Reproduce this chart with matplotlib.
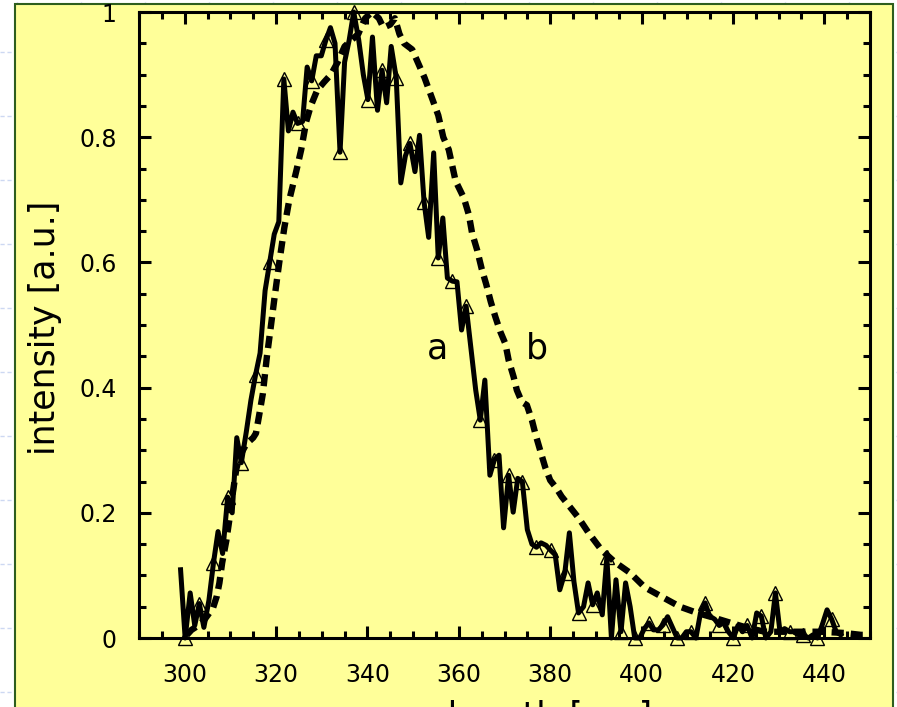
import matplotlib.pyplot as plt
from matplotlib.patches import Rectangle
from matplotlib.lines import Line2D
from matplotlib.ticker import MultipleLocator, FuncFormatter

# spectrum a (solid, triangles every 3rd point)
wl_a = [299.1, 300.1, 301.2, 302.2, 303.2, 304.2, 305.3, 306.3, 307.3, 308.3,
        309.4, 310.4, 311.4, 312.4, 313.5, 314.5, 315.5, 316.5, 317.6, 318.6,
        319.6, 320.6, 321.7, 322.7, 323.7, 324.7, 325.8, 326.8, 327.8, 328.8,
        329.9, 330.9, 331.9, 332.9, 334.0, 335.0, 336.0, 337.0, 338.1, 339.1,
        340.1, 341.1, 342.2, 343.2, 344.2, 345.2, 346.3, 347.3, 348.3, 349.3,
        350.4, 351.4, 352.4, 353.4, 354.5, 355.5, 356.5, 357.5, 358.6, 359.6,
        360.6, 361.6, 362.7, 363.7, 364.7, 365.7, 366.8, 367.8, 368.8, 369.8,
        370.9, 371.9, 372.9, 373.9, 375.0, 376.0, 377.0, 378.0, 379.1, 380.1,
        381.1, 382.1, 383.2, 384.2, 385.2, 386.2, 387.3, 388.3, 389.3, 390.3,
        391.4, 392.4, 393.4, 394.4, 395.5, 396.5, 397.5, 398.5, 399.6, 400.6,
        401.6, 402.6, 403.7, 404.7, 405.7, 406.7, 407.8, 408.8, 409.8, 410.8,
        411.9, 412.9, 413.9, 414.9, 416.0, 417.0, 418.0, 419.0, 420.1, 421.1,
        422.1, 423.1, 424.2, 425.2, 426.2, 427.2, 428.3, 429.3, 430.3, 431.3,
        432.4, 433.4, 434.4, 435.4, 436.5, 437.5, 438.5, 439.5, 440.6, 441.6,
        442.6, 443.6]
int_a = [0.109, 0.0, 0.072, 0.02, 0.055, 0.017, 0.06, 0.12, 0.17, 0.135,
         0.225, 0.20, 0.32, 0.28, 0.33, 0.38, 0.42, 0.455, 0.555, 0.60,
         0.645, 0.665, 0.893, 0.81, 0.84, 0.822, 0.825, 0.912, 0.89, 0.93,
         0.93, 0.955, 0.975, 0.95, 0.776, 0.92, 0.955, 1.0, 0.955, 0.90,
         0.86, 0.96, 0.843, 0.907, 0.855, 0.945, 0.895, 0.727, 0.77, 0.79,
         0.745, 0.803, 0.696, 0.64, 0.775, 0.607, 0.671, 0.575, 0.57, 0.569,
         0.492, 0.53, 0.46, 0.396, 0.348, 0.412, 0.26, 0.285, 0.292, 0.176,
         0.26, 0.201, 0.255, 0.25, 0.173, 0.15, 0.145, 0.152, 0.148, 0.14,
         0.133, 0.077, 0.104, 0.168, 0.09, 0.04, 0.05, 0.088, 0.053, 0.072,
         0.037, 0.129, 0.0, 0.093, 0.01, 0.088, 0.05, 0.0, 0.0, 0.015,
         0.024, 0.013, 0.013, 0.021, 0.034, 0.018, 0.0, 0.0, 0.01, 0.01,
         0.0, 0.04, 0.056, 0.035, 0.03, 0.02, 0.025, 0.01, 0.0, 0.02,
         0.01, 0.02, 0.0, 0.04, 0.035, 0.0, 0.01, 0.072, 0.01, 0.015,
         0.01, 0.01, 0.005, 0.005, 0.0, 0.005, 0.0, 0.02, 0.045, 0.03,
         0.01, 0.005]

# spectrum b (dashed)
wl_b = [300.5, 301.5, 303.0, 304.4, 306.2, 307.0, 307.6, 308.2, 309.1, 309.8,
        310.5, 311.3, 312.0, 313.5, 315.0, 315.6, 316.4, 317.1, 318.0, 318.9,
        319.6, 320.7, 321.8, 322.9, 324.4, 325.5, 326.6, 327.6, 329.0, 330.5,
        332.0, 333.5, 335.0, 336.5, 338.0, 339.5, 341.0, 342.5, 343.5, 345.0,
        346.0, 347.0, 348.0, 349.8, 351.0, 352.5, 354.0, 355.5, 356.6, 357.8,
        359.3, 361.1, 362.2, 362.9, 364.0, 365.0, 366.0, 367.0, 368.0, 369.1,
        370.2, 370.9, 372.0, 372.7, 373.8, 374.9, 376.0, 376.8, 377.8, 378.9,
        380.0, 381.3, 382.5, 383.6, 386.2, 388.4, 391.3, 394.2, 397.5, 400.7,
        404.4, 408.4, 412.2, 416.0, 419.6, 423.3, 427.0, 431.3, 435.4, 439.4,
        444.4, 448.0, 449.5]
int_b = [0.005, 0.013, 0.02, 0.03, 0.048, 0.066, 0.088, 0.12, 0.155, 0.19,
         0.23, 0.27, 0.29, 0.31, 0.32, 0.327, 0.36, 0.39, 0.45, 0.50,
         0.54, 0.60, 0.655, 0.70, 0.745, 0.78, 0.825, 0.85, 0.875, 0.888,
         0.90, 0.92, 0.945, 0.955, 0.965, 0.99, 1.0, 0.99, 0.975, 0.98,
         0.99, 0.965, 0.95, 0.94, 0.92, 0.895, 0.865, 0.835, 0.80, 0.78,
         0.73, 0.703, 0.676, 0.647, 0.62, 0.59, 0.565, 0.537, 0.513, 0.489,
         0.47, 0.444, 0.417, 0.396, 0.377, 0.372, 0.348, 0.325, 0.30, 0.273,
         0.252, 0.24, 0.226, 0.216, 0.192, 0.168, 0.14, 0.121, 0.104, 0.081,
         0.066, 0.05, 0.04, 0.032, 0.024, 0.016, 0.01, 0.01, 0.01, 0.01,
         0.008, 0.005, 0.005]

x_ticks = [300, 320, 340, 360, 380, 400, 420, 440]
y_ticks = [0, 0.2, 0.4, 0.6, 0.8, 1]

W, H = 897, 707
fig = plt.figure(figsize=(W / 100, H / 100), dpi=100)
fig.patch.set_facecolor('white')

# faint slide grid behind the yellow panel
for yp in range(52, H, 64):
    fig.add_artist(Line2D([0, 1], [1 - yp / H] * 2, color='#cdd8f2', lw=1,
                          ls=(0, (3, 2)), zorder=-3))
for xp in range(17, W, 64):
    fig.add_artist(Line2D([xp / W] * 2, [0, 1], color='#dde5f7', lw=1,
                          ls=(0, (3, 2)), zorder=-3))
fig.add_artist(Rectangle((15 / W, -0.01), (893 - 15) / W, 1.01 - 4 / H,
                         facecolor='#ffff99', edgecolor='#2e5e1e', lw=1.5,
                         zorder=-2))

ax = fig.add_axes([139 / W, 1 - 638 / H, (870 - 139) / W, (638 - 12) / H])
ax.set_facecolor('none')

ax.plot(wl_b, int_b, color='black', lw=4.6, ls=(0, (1.9, 1.1)),
        dash_capstyle='butt', clip_on=False)
ax.plot(wl_a, int_a, color='black', lw=3.6, marker='^', markersize=10,
        markerfacecolor='none', markeredgecolor='black', markeredgewidth=1,
        markevery=(1, 3), clip_on=False)

ax.text(355.3, 0.463, 'a', fontsize=25, ha='center', va='center')
ax.text(377.2, 0.463, 'b', fontsize=25, ha='center', va='center')

ax.set_xlim(290, 450)
ax.set_ylim(0, 1)
ax.set_xticks(x_ticks)
ax.set_yticks(y_ticks)
ax.xaxis.set_minor_locator(MultipleLocator(5))
ax.yaxis.set_minor_locator(MultipleLocator(0.05))
ax.yaxis.set_major_formatter(FuncFormatter(lambda v, p: f'{v:g}'))

for s in ax.spines.values():
    s.set_linewidth(2.2)
ax.tick_params(which='both', direction='in', top=True, right=True, width=2.2,
               labelsize=17)
ax.tick_params(which='major', length=8.6)
ax.tick_params(which='minor', length=5)
ax.tick_params(axis='x', pad=18)
ax.tick_params(axis='y', pad=16)

ax.set_ylabel('intensity [a.u.]', fontsize=25)
ax.set_xlabel('wavelength [nm]', fontsize=25)
ax.yaxis.set_label_coords(-0.105, 0.496)
ax.xaxis.set_label_coords(0.5, -0.099)

fig.savefig('out.png', dpi=100)
